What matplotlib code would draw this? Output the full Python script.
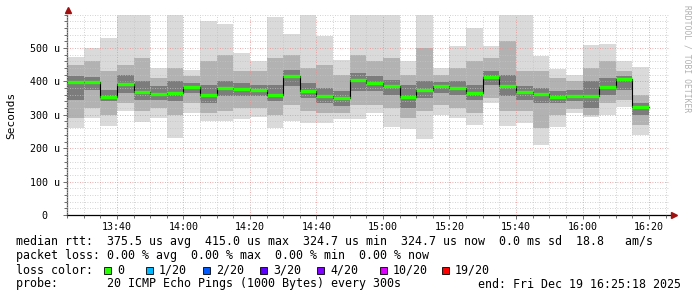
import matplotlib
matplotlib.use('Agg')
import matplotlib.pyplot as plt
from matplotlib.patches import Rectangle

# 5-minute steps (start time of each step)
step_start = ['13:25', '13:30', '13:35', '13:40', '13:45', '13:50', '13:55',
              '14:00', '14:05', '14:10', '14:15', '14:20', '14:25', '14:30',
              '14:35', '14:40', '14:45', '14:50', '14:55', '15:00', '15:05',
              '15:10', '15:15', '15:20', '15:25', '15:30', '15:35', '15:40',
              '15:45', '15:50', '15:55', '16:00', '16:05', '16:10', '16:15']

# ping rtt spread per step, microseconds (min, ~p15, ~p35, median, ~p65, ~p85, max)
rtt_min = [261, 290, 266, 312, 279, 289, 231, 304, 282, 280, 287, 294, 261, 280,
           274, 276, 287, 287, 305, 264, 256, 229, 299, 290, 269, 334, 266, 276,
           209, 264, 304, 293, 299, 324, 239]
rtt_p15 = [290, 320, 300, 335, 310, 320, 300, 335, 305, 310, 320, 320, 300, 330,
           310, 305, 305, 330, 330, 320, 290, 310, 330, 320, 305, 350, 310, 310,
           260, 300, 318, 300, 335, 345, 270]
rtt_p35 = [345, 375, 340, 365, 345, 345, 340, 365, 335, 355, 355, 355, 340, 385,
           350, 335, 325, 370, 370, 360, 320, 350, 365, 360, 345, 390, 355, 345,
           335, 335, 340, 320, 360, 375, 300]
rtt_median = [399, 399, 354, 392, 369, 362, 366, 384, 359, 381, 377, 373, 359, 415,
              371, 356, 349, 403, 396, 386, 354, 374, 386, 381, 366, 414, 386, 368,
              362, 352, 355, 355, 384, 406, 324.7]
rtt_p65 = [415, 412, 375, 420, 400, 385, 400, 395, 390, 400, 395, 390, 390, 435,
           395, 380, 370, 425, 415, 405, 390, 400, 398, 400, 390, 430, 420, 385,
           380, 370, 375, 400, 410, 415, 335]
rtt_p85 = [450, 460, 430, 450, 470, 410, 440, 415, 460, 480, 430, 430, 470, 480,
           440, 450, 420, 480, 460, 470, 420, 500, 420, 440, 460, 470, 520, 430,
           430, 410, 400, 440, 460, 430, 360]
rtt_max = [474, 500, 530, 620, 620, 439, 620, 435, 581, 573, 484, 461, 594, 541,
           620, 537, 464, 620, 620, 620, 461, 620, 439, 507, 559, 507, 620, 620,
           476, 437, 420, 509, 512, 461, 442]

tick_labels = ['13:40', '14:00', '14:20', '14:40', '15:00', '15:20', '15:40',
               '16:00', '16:20']
loss_labels = ['0', '1/20', '2/20', '3/20', '4/20', '10/20', '19/20']
loss_colors = ['#26ff00', '#00b8ff', '#0059ff', '#5e00ff', '#7e00ff', '#dd00ff',
               '#ff0000']

W, H = 697, 297
MONO = 'DejaVu Sans Mono'


def minutes(hhmm):
    h, m = hhmm.split(':')
    return (int(h) - 13) * 60 + int(m)


def fx(px):
    return px / W


def fy(py):
    return 1 - py / H


x0 = [minutes(s) for s in step_start]

fig = plt.figure(figsize=(W / 100, H / 100), dpi=100)
ax = fig.add_axes([fx(67), fy(215), (670 - 67) / W, (215 - 14.6) / H])

# smoke: outer to inner bands
bands = [(rtt_min, rtt_max, '#dadada'),
         (rtt_p15, rtt_p85, '#b2b2b2'),
         (rtt_p35, rtt_p65, '#7c7c7c')]
for lo, hi, col in bands:
    ax.bar(x0, [h - l for l, h in zip(lo, hi)], bottom=lo, width=5,
           align='edge', color=col, linewidth=0, zorder=1)

# median: black connectors + green segments
ax.step(x0 + [x0[-1] + 5], rtt_median + [rtt_median[-1]], where='post',
        color='black', lw=0.8, zorder=3)
ax.hlines(rtt_median, x0, [x + 5 for x in x0], color='#26ff00', lw=2.4, zorder=4)

ax.set_xlim(25.4, 206.3)
ax.set_ylim(0, 600)
ax.set_xticks([minutes(t) for t in tick_labels])
ax.set_xticklabels(tick_labels)
ax.set_xticks(list(range(25, 206, 5)), minor=True)
ax.set_yticks([0, 100, 200, 300, 400, 500])
ax.set_yticklabels(['0  ', '100 u', '200 u', '300 u', '400 u', '500 u'])
ax.set_yticks(list(range(0, 601, 20)), minor=True)

ax.grid(which='minor', color='#c4c4c4', lw=0.6, ls=(0, (1, 2)), zorder=2)
ax.grid(which='major', color='#e09090', lw=0.6, ls=(0, (1, 2)), zorder=2)
ax.set_axisbelow(False)

for lab in ax.get_xticklabels() + ax.get_yticklabels():
    lab.set_fontfamily(MONO)
    lab.set_fontsize(7.2)
ax.tick_params(which='major', length=3, width=0.6, color='#555555', pad=2)
ax.tick_params(which='minor', length=2, width=0.6, color='#555555')

for side in ('top', 'right'):
    ax.spines[side].set_visible(False)
ax.spines['left'].set_color('#555555')
ax.spines['bottom'].set_color('black')
ax.spines['left'].set_linewidth(0.9)
ax.spines['bottom'].set_linewidth(0.9)

# axis arrows
ax.plot([25.4], [615], marker='^', ms=4, color='#a01010', clip_on=False, zorder=5)
ax.plot([207.5], [0], marker='>', ms=4, color='#a01010', clip_on=False, zorder=5)

fig.text(fx(11), fy(115), 'Seconds', rotation=90, ha='center', va='center',
         family=MONO, fontsize=8)
fig.text(fx(687), fy(5), 'RRDTOOL / TOBI OETIKER', rotation=270, ha='center',
         va='top', family=MONO, fontsize=5.8, color='#b0b0b0')

# legend / stats block
fs = 8.4
fig.text(fx(16), fy(241), 'median rtt:  375.5 us avg  415.0 us max  324.7 us min'
         '  324.7 us now  0.0 ms sd  18.8   am/s', family=MONO, fontsize=fs,
         va='center')
fig.text(fx(16), fy(255.5), 'packet loss: 0.00 % avg  0.00 % max  0.00 % min'
         '  0.00 % now', family=MONO, fontsize=fs, va='center')
fig.text(fx(16), fy(270), 'loss color:', family=MONO, fontsize=fs, va='center')
sq_left = [104, 146, 203, 260, 317, 380, 442]
for px, lab, col in zip(sq_left, loss_labels, loss_colors):
    fig.patches.append(Rectangle((fx(px), fy(273.5)), 7 / W, 7 / H,
                                 transform=fig.transFigure, facecolor=col,
                                 edgecolor='black', lw=0.6))
    fig.text(fx(px + 13), fy(270), lab, family=MONO, fontsize=fs, va='center')
fig.text(fx(16), fy(284), 'probe:       20 ICMP Echo Pings (1000 Bytes) every 300s',
         family=MONO, fontsize=fs, va='center')
fig.text(fx(681), fy(284), 'end: Fri Dec 19 16:25:18 2025', family=MONO,
         fontsize=fs, va='center', ha='right')

fig.savefig('out.png', dpi=100)
